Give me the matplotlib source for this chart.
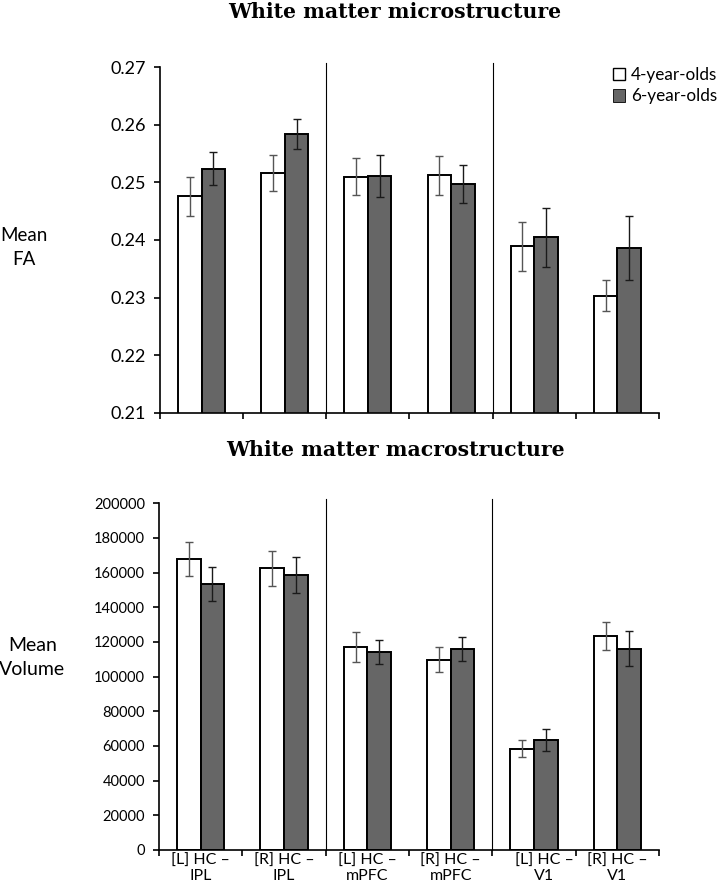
import matplotlib
matplotlib.use('Agg')
import matplotlib.pyplot as plt
import matplotlib.transforms as mtransforms
from matplotlib.patches import Patch
import numpy as np

regions = ['[L] HC \u2013\nIPL', '[R] HC \u2013\nIPL', '[L] HC \u2013\nmPFC',
           '[R] HC \u2013\nmPFC', '[L] HC \u2013\nV1', '[R] HC \u2013\nV1']
groups = ['4-year-olds', '6-year-olds']

fa_4 = [0.2476, 0.2516, 0.2510, 0.2512, 0.2389, 0.2303]
fa_4_err = [0.0034, 0.0031, 0.0032, 0.0034, 0.0043, 0.0027]
fa_6 = [0.2524, 0.2584, 0.2511, 0.2497, 0.2405, 0.2386]
fa_6_err = [0.0029, 0.0026, 0.0036, 0.0033, 0.0051, 0.0055]

vol_4 = [167700, 162500, 117100, 109800, 58500, 123500]
vol_4_err = [9900, 10000, 8500, 7200, 4800, 8000]
vol_6 = [153300, 158600, 114200, 115800, 63500, 116000]
vol_6_err = [9800, 10400, 7000, 7000, 6300, 10100]

plt.rcParams['font.family'] = ['Lato', 'DejaVu Sans']

fig = plt.figure(figsize=(7.22, 8.83), dpi=100)
ax1 = fig.add_axes([0.2216, 0.5323, 0.6911, 0.3918])
ax2 = fig.add_axes([0.2202, 0.0374, 0.6925, 0.3926])

x = np.arange(len(regions))
w = 0.283
grey = '#666666'


def draw(ax, v4, e4, v6, e6, ylim, yticks, fmt, tick_fs):
    ax.bar(x - w / 2, v4, w, color='white', edgecolor='black', linewidth=1.4, zorder=2)
    ax.bar(x + w / 2, v6, w, color=grey, edgecolor='black', linewidth=1.4, zorder=2)
    ax.errorbar(x - w / 2, v4, yerr=e4, fmt='none', ecolor='#555555',
                elinewidth=1, capsize=3, capthick=1, zorder=3)
    ax.errorbar(x + w / 2, v6, yerr=e6, fmt='none', ecolor='#1a1a1a',
                elinewidth=1, capsize=3, capthick=1, zorder=3)
    ax.set_xlim(-0.5, len(regions) - 0.5)
    ax.set_ylim(*ylim)
    ax.set_yticks(yticks)
    ax.set_yticklabels([fmt(t) for t in yticks], fontsize=tick_fs)
    ax.spines['top'].set_visible(False)
    ax.spines['right'].set_visible(False)
    for s in ['left', 'bottom']:
        ax.spines[s].set_linewidth(1.2)
    ax.tick_params(axis='y', direction='out', length=4, width=1.2, pad=6)
    ax.set_xticks(np.arange(-0.5, len(regions), 1.0), minor=True)
    ax.tick_params(axis='x', which='minor', direction='out', length=4, width=1.2)
    ax.tick_params(axis='x', which='major', length=0)
    for b in [1.5, 3.5]:
        ax.axvline(b, ymin=0, ymax=1.013, color='black', linewidth=0.8,
                   clip_on=False, zorder=1)


draw(ax1, fa_4, fa_4_err, fa_6, fa_6_err, (0.21, 0.27),
     [0.21, 0.22, 0.23, 0.24, 0.25, 0.26, 0.27], lambda t: f'{t:.2f}', 13)
ax1.set_xticks(x)
ax1.set_xticklabels([])

draw(ax2, vol_4, vol_4_err, vol_6, vol_6_err, (0, 200000),
     list(range(0, 200001, 20000)), lambda t: f'{int(t)}', 10.5)
ax2.set_xticks(x)
ax2.set_xticklabels(regions, fontsize=11.5, linespacing=1.05)
ax2.tick_params(axis='x', which='major', pad=3)
# the [L] V1 label sits a little right of its slot
lab = ax2.get_xticklabels()[4]
lab.set_transform(lab.get_transform() + mtransforms.ScaledTranslation(0.1, 0, fig.dpi_scale_trans))

fig.text(0.547, 0.986, 'White matter microstructure', ha='center', va='center',
         family='DejaVu Serif', fontweight='bold', fontsize=14.7)
fig.text(0.548, 0.490, 'White matter macrostructure', ha='center', va='center',
         family='DejaVu Serif', fontweight='bold', fontsize=14.7)

fig.text(0.033, 0.7197, 'Mean\nFA', ha='center', va='center', fontsize=13.5, linespacing=1.5)
fig.text(0.045, 0.2554, 'Mean\nVolume', ha='center', va='center', fontsize=14, linespacing=1.45)

handles = [Patch(facecolor='white', edgecolor='black', linewidth=1.0),
           Patch(facecolor=grey, edgecolor='black', linewidth=0.6)]
fig.legend(handles, groups, loc='upper left', bbox_to_anchor=(0.849, 0.924),
           frameon=False, fontsize=12.3, handlelength=0.7, handleheight=0.75,
           handletextpad=0.35, labelspacing=0.3, borderaxespad=0, borderpad=0)

fig.savefig('out.png', dpi=100)
